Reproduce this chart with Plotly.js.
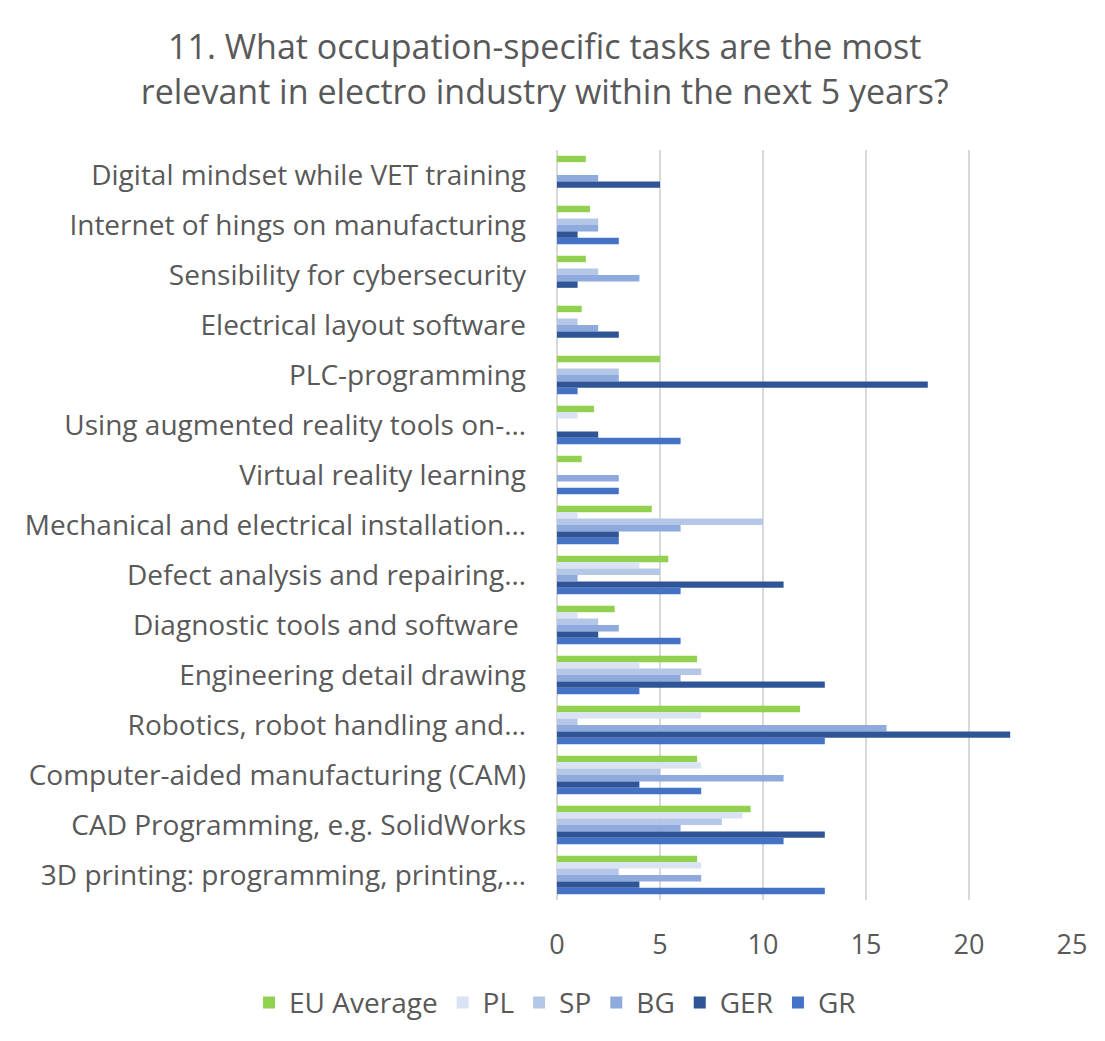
<!DOCTYPE html>
<html>
<head>
<meta charset="utf-8">
<script src="https://cdn.plot.ly/plotly-3.0.1.min.js"></script>
<style>html,body{margin:0;padding:0;background:#fff;}#chart{width:1105px;height:1041px;}</style>
</head>
<body>
<div id="chart"></div>
<script>
const categories = [
  "Digital mindset while VET training",
  "Internet of hings on manufacturing",
  "Sensibility for cybersecurity",
  "Electrical layout software",
  "PLC-programming",
  "Using augmented reality tools on-…",
  "Virtual reality learning",
  "Mechanical and electrical installation…",
  "Defect analysis and repairing…",
  "Diagnostic tools and software ",
  "Engineering detail drawing",
  "Robotics, robot handling and…",
  "Computer-aided manufacturing (CAM)",
  "CAD Programming, e.g. SolidWorks",
  "3D printing: programming, printing,…"
];
const seriesNames = ["EU Average", "PL", "SP", "BG", "GER", "GR"];
const euAverage = [1.4, 1.6, 1.4, 1.2, 5, 1.8, 1.2, 4.6, 5.4, 2.8, 6.8, 11.8, 6.8, 9.4, 6.8];
const pl  = [0, 0, 0, 0, 0, 1, 0, 1, 4, 1, 4, 7, 7, 9, 7];
const sp  = [0, 2, 2, 1, 3, 0, 0, 10, 5, 2, 7, 1, 5, 8, 3];
const bg  = [2, 2, 4, 2, 3, 0, 3, 6, 1, 3, 6, 16, 11, 6, 7];
const ger = [5, 1, 1, 3, 18, 2, 0, 3, 11, 2, 13, 22, 4, 13, 4];
const gr  = [0, 3, 0, 0, 1, 6, 3, 3, 6, 6, 4, 13, 7, 11, 13];
const colors = ["#92D050", "#DAE3F3", "#B4C7E7", "#8FAADC", "#2F5597", "#4472C4"];
const values = [euAverage, pl, sp, bg, ger, gr];

const font = "'Open Sans', sans-serif";
const traces = values.map((v, i) => ({
  type: "bar",
  orientation: "h",
  name: seriesNames[i],
  y: categories,
  x: v,
  marker: {color: colors[i]},
  hoverinfo: "x+name"
}));

const layout = {
  width: 1105,
  height: 1041,
  paper_bgcolor: "#fff",
  plot_bgcolor: "#fff",
  margin: {l: 557, r: 33, t: 150, b: 141},
  barmode: "group",
  bargap: 0.23,
  bargroupgap: 0,
  title: {
    text: "11. What occupation-specific tasks are the most<br>relevant in electro industry within the next 5 years?",
    font: {family: font, size: 34, color: "#595959"},
    x: 0.493, xanchor: "center", xref: "container",
    y: 0.943, yanchor: "top", yref: "container"
  },
  xaxis: {
    range: [0, 25],
    dtick: 5,
    tick0: 0,
    showgrid: true,
    gridcolor: "#D9D9D9",
    gridwidth: 1.5,
    zeroline: true,
    zerolinecolor: "#D9D9D9",
    zerolinewidth: 1.5,
    showline: false,
    ticks: "",
    ticklabelstandoff: 26,
    tickfont: {family: font, size: 27, color: "#595959"}
  },
  yaxis: {
    type: "category",
    autorange: "reversed",
    showgrid: false,
    showline: false,
    ticks: "",
    ticklabelstandoff: 30,
    tickfont: {family: font, size: 28, color: "#595959"},
    automargin: false
  },
  legend: {
    orientation: "h",
    x: -0.598, xanchor: "left", xref: "paper",
    y: -0.137, yanchor: "middle", yref: "paper",
    traceorder: "normal",
    font: {family: font, size: 28, color: "#595959"},
    itemwidth: 30
  },
  showlegend: true
};

Plotly.newPlot("chart", traces, layout, {displayModeBar: false, staticPlot: true});
</script>
</body>
</html>
